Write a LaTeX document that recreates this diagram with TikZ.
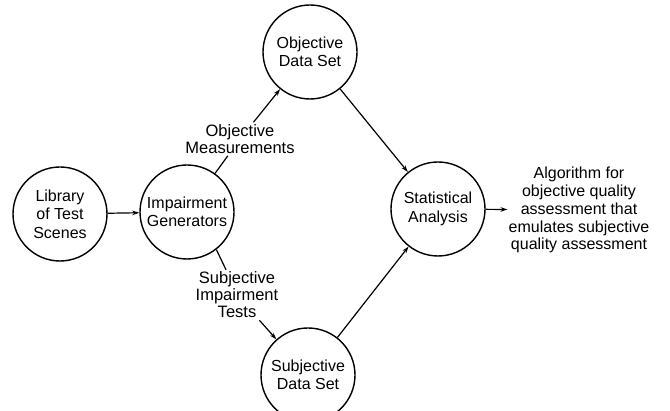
\documentclass[tikz,border=0pt]{standalone}
\usepackage{fontspec}
\setmainfont{Liberation Sans}
\usetikzlibrary{arrows.meta}
\begin{document}
\begin{tikzpicture}[x=1pt,y=-1pt,
  stage/.style={circle,draw,line width=1.4pt,minimum size=94pt,inner sep=0pt,
    align=center,font=\fontsize{16}{18.5}\selectfont},
  tag/.style={align=center,inner sep=2pt,font=\fontsize{16.5}{17}\selectfont},
  result/.style={align=center,inner sep=1pt,font=\fontsize{16}{17.9}\selectfont},
  flow/.style={line width=1.2pt,-{Stealth[length=7pt,width=4.5pt]}},
  link/.style={line width=1.2pt}]
\useasboundingbox (0,0) rectangle (670,411);

% process stages
\node[stage] (lib)   at (60,214)  {Library\\of Test\\Scenes};
\node[stage] (imp)   at (187,212) {Impairment\\Generators};
\node[stage] (obj)   at (310,52)  {Objective\\Data Set};
\node[stage] (subj)  at (308,375) {Subjective\\Data Set};
\node[stage] (stats) at (438,209) {Statistical\\Analysis};

% branch labels
\node[tag] (lblO) at (240,139) {Objective\\Measurements};
\node[tag] (lblS) at (237,295) {Subjective\\Impairment\\Tests};

% outcome
\node[result] (alg) at (579,210) {Algorithm for\\objective quality\\assessment that\\emulates subjective\\quality assessment};

% connectors
\draw[flow] (lib) -- (imp);
\draw[link] (imp) -- (lblO);
\draw[flow] (lblO) -- (obj);
\draw[link] (imp.-52) -- (lblS.north -| 226,0);
\draw[flow] (lblS) -- (subj);
\draw[flow] (obj) -- (stats);
\draw[flow] (subj) -- (stats);
\draw[flow] (stats) -- (alg);
\end{tikzpicture}
\end{document}
